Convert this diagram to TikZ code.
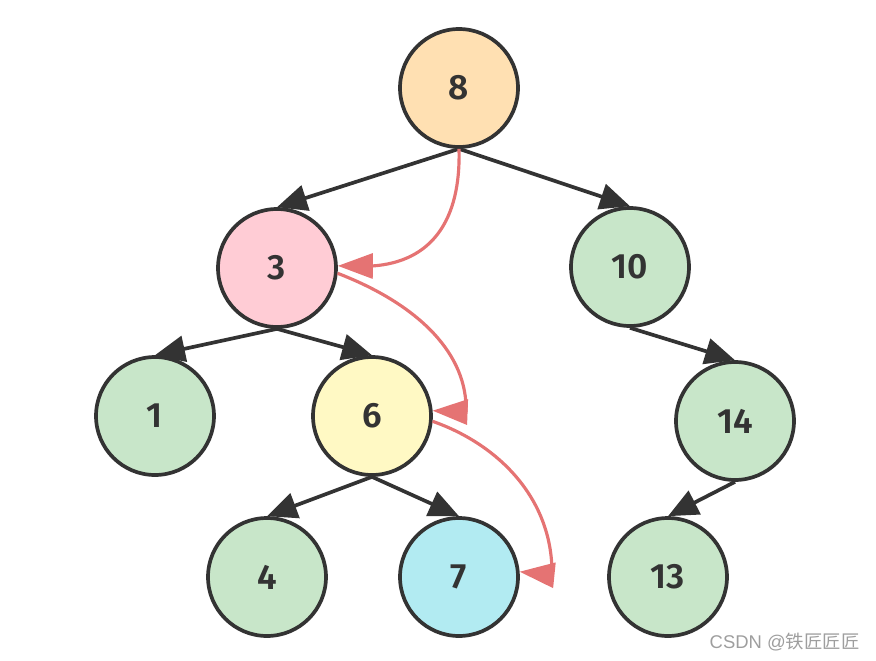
\documentclass[tikz,border=0pt]{standalone}
\usepackage{fontspec}
\setmainfont{Fira Sans}[BoldFont={Fira Sans SemiBold}]
\newfontfamily\markfont{Liberation Sans}
\newfontfamily\cjk{Noto Sans CJK SC}
\usetikzlibrary{arrows.meta}

\definecolor{edgegray}{HTML}{333333}
\definecolor{pathred}{HTML}{E57373}
\definecolor{rootfill}{HTML}{FFE0B2}
\definecolor{pinkfill}{HTML}{FFCCD5}
\definecolor{greenfill}{HTML}{C8E6C9}
\definecolor{yellowfill}{HTML}{FFF9C4}
\definecolor{cyanfill}{HTML}{B2EBF2}

\begin{document}
\begin{tikzpicture}[
  x=0.02cm, y=-0.02cm,
  treenode/.style={
    circle, draw=edgegray, line width=2.1pt,
    minimum size=2.36cm, inner sep=0pt,
    font=\bfseries\fontsize{20}{24}\selectfont, text=edgegray,
  },
  greennode/.style={treenode, fill=greenfill},
  edge/.style={-{Triangle[length=0.6cm,width=0.52cm]}, draw=edgegray, line width=2.1pt},
  walk/.style={-{Triangle[length=0.7cm,width=0.5cm]}, draw=pathred, line width=1.8pt},
]
\useasboundingbox (0,0) rectangle (876,660);

%---------- nodes ----------
\node[treenode, fill=rootfill] (n8) at (459,88) {8};
\node[treenode, fill=pinkfill] (n3) at (277,268) {3};
\node[greennode] (n10) at (630,267) {10};
\node[greennode] (n1) at (155,416) {1};
\node[treenode, fill=yellowfill] (n6) at (372,416) {6};
\node[greennode] (n14) at (735,421) {14};
\node[greennode] (n4) at (267,577) {4};
\node[treenode, fill=cyanfill] (n7) at (459,577) {7};
\node[greennode] (n13) at (668,577) {13};

%---------- tree edges ----------
\draw[edge] (n8.south) -- (n3.north);
\draw[edge] (n8.south) -- (n10.north);
\draw[edge] (n3.south) -- (n1.north);
\draw[edge] (n3.south) -- (n6.north);
\draw[edge] (n6.south) -- (n4.north);
\draw[edge] (n6.south) -- (n7.north);
\draw[edge] (n10.south) -- (n14.north);
\draw[edge] (n14.south) -- (n13.north);

%---------- search path ----------
\draw[walk] (n8.south) .. controls (461,220) and (432,262) .. (372,266) -- (n3.2);
\draw[walk] (n3.-5) .. controls (420,305) and (468,355) .. (466,412) -- (n6.5);
\draw[walk] (n6.-5) .. controls (500,445) and (553,500) .. (552,575) -- (n7.5);

%---------- watermark ----------
\node[anchor=east, text=black!38, font=\fontsize{10.5}{12}\selectfont, inner sep=0pt]
  (mark) at (860,642) {\markfont CSDN @\cjk 铁匠匠匠};

\end{tikzpicture}
\end{document}
